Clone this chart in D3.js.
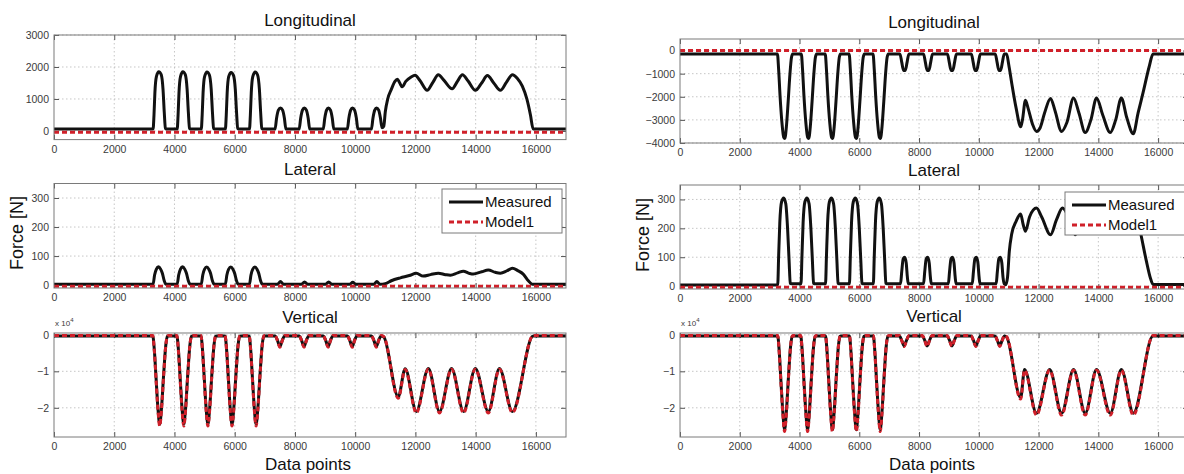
<!DOCTYPE html>
<html>
<head>
<meta charset="utf-8">
<script src="https://cdn.jsdelivr.net/npm/d3@7"></script>
<style>
  body { margin: 0; background: #fff; }
  svg { display: block; }
</style>
</head>
<body>
<svg id="chart" width="1184" height="474"></svg>
<script>
// ---- Axis ticks and labels ----
const xTickValues = [0, 2000, 4000, 6000, 8000, 10000, 12000, 14000, 16000];
const leftLongTicks = [0, 1000, 2000, 3000];
const rightLongTicks = [-4000, -3000, -2000, -1000, 0];
const latTicks = [0, 100, 200, 300];
const vertTicks = [-20000, -10000, 0];
const subplotTitles = ["Longitudinal", "Lateral", "Vertical"];
const seriesNames = ["Measured", "Model1"];

// ---- Test run 1: forces [N] against data point index ----
const leftLongMeasured = [
  [0,60],[3290,60],[3320,500],[3350,1200],[3400,1700],[3480,1850],[3560,1760],[3620,1300],[3660,600],[3700,80],[3730,60],
  [4090,60],[4120,500],[4150,1200],[4200,1700],[4280,1850],[4360,1760],[4420,1300],[4460,600],[4500,80],[4530,60],
  [4890,60],[4920,500],[4950,1200],[5000,1700],[5080,1840],[5160,1750],[5220,1300],[5260,600],[5300,80],[5330,60],
  [5690,60],[5720,500],[5750,1200],[5800,1700],[5880,1830],[5960,1740],[6020,1300],[6060,600],[6100,80],[6130,60],
  [6490,60],[6520,500],[6550,1200],[6600,1700],[6680,1840],[6760,1750],[6820,1300],[6860,600],[6900,80],[6930,60],
  [7340,60],[7390,400],[7450,650],[7520,720],[7590,650],[7650,400],[7700,60],
  [8140,60],[8190,400],[8250,650],[8310,720],[8380,650],[8440,400],[8490,60],
  [8940,60],[8990,400],[9050,650],[9110,720],[9180,650],[9240,400],[9290,60],
  [9740,60],[9790,400],[9850,650],[9910,720],[9980,650],[10040,400],[10090,60],
  [10540,60],[10590,400],[10650,650],[10710,720],[10780,650],[10840,400],[10890,100],
  [10950,150],[11000,600],[11080,1000],[11200,1300],[11320,1550],[11400,1620],[11480,1500],[11560,1380],
  [11680,1550],[11850,1680],[11990,1740],[12150,1580],[12390,1270],[12580,1520],[12760,1760],[12950,1580],
  [13220,1320],[13400,1560],[13560,1760],[13750,1560],[13990,1270],[14200,1500],[14390,1730],[14600,1500],
  [14820,1270],[15020,1520],[15220,1760],[15380,1650],[15550,1400],[15700,1000],[15820,500],[15910,60],[17000,60]
];
const leftLongModel = [[0,-40],[17000,-40]];

const leftLatMeasured = [
  [0,3],[3290,3],[3340,35],[3400,55],[3470,63],[3540,55],[3600,40],[3660,15],[3720,3],
  [4090,3],[4140,35],[4200,55],[4270,63],[4340,55],[4400,40],[4460,15],[4520,3],
  [4890,3],[4940,35],[5000,55],[5070,62],[5140,55],[5200,40],[5260,15],[5320,3],
  [5690,3],[5740,35],[5800,55],[5870,62],[5940,55],[6000,40],[6060,15],[6120,3],
  [6490,3],[6540,35],[6600,55],[6670,62],[6740,55],[6800,40],[6860,15],[6920,3],
  [7420,3],[7520,12],[7620,3],[8220,3],[8320,11],[8420,3],[9020,3],[9120,11],[9220,3],
  [9820,3],[9920,10],[10020,3],[10620,3],[10720,12],[10820,3],
  [11000,5],[11200,15],[11500,25],[11800,33],[12030,41],[12260,31],[12500,36],[12760,41],[13000,36],
  [13160,34],[13400,42],[13590,48],[13800,40],[13920,38],[14200,46],[14420,52],[14650,44],[14820,41],
  [15050,50],[15220,58],[15400,50],[15580,38],[15750,15],[15880,3],[17000,3]
];
const leftLatModel = [[0,-4],[17000,-4]];

const leftVertMeasured = [
  [0,-300],[3280,-300],[3330,-4000],[3390,-12000],[3450,-20000],[3510,-24500],[3570,-20000],[3640,-11000],[3710,-3000],[3770,-400],[3800,-300],
  [4080,-300],[4130,-4000],[4190,-12000],[4250,-20000],[4310,-24500],[4370,-20000],[4440,-11000],[4510,-3000],[4570,-400],[4600,-300],
  [4880,-300],[4930,-4000],[4990,-12000],[5050,-20000],[5110,-24500],[5170,-20000],[5240,-11000],[5310,-3000],[5370,-400],[5400,-300],
  [5680,-300],[5730,-4000],[5790,-12000],[5850,-20000],[5910,-24500],[5970,-20000],[6040,-11000],[6110,-3000],[6170,-400],[6200,-300],
  [6480,-300],[6530,-4000],[6590,-12000],[6650,-20000],[6710,-24500],[6770,-20000],[6840,-11000],[6910,-3000],[6970,-400],[7000,-300],
  [7340,-300],[7420,-1500],[7500,-3200],[7580,-1500],[7660,-300],
  [8140,-300],[8220,-1500],[8300,-3200],[8380,-1500],[8460,-300],
  [8940,-300],[9020,-1500],[9100,-3200],[9180,-1500],[9260,-300],
  [9740,-300],[9820,-1500],[9900,-3200],[9980,-1500],[10060,-300],
  [10540,-300],[10620,-1500],[10700,-3200],[10780,-1500],[10860,-300],
  [10950,-600],[11430,-17000],[11660,-9300],[12030,-21000],[12430,-9200],[12800,-21000],[13200,-9200],
  [13600,-21000],[13990,-9200],[14420,-21000],[14790,-9200],[15220,-21000],[15910,-300],[17000,-300]
];
const leftVertModel = [
  [0,-200],[3280,-200],[3330,-4300],[3390,-12500],[3450,-20500],[3510,-25000],[3570,-20500],[3640,-11200],[3710,-3000],[3770,-300],[3800,-200],
  [4080,-200],[4130,-4300],[4190,-12500],[4250,-20500],[4310,-25000],[4370,-20500],[4440,-11200],[4510,-3000],[4570,-300],[4600,-200],
  [4880,-200],[4930,-4300],[4990,-12500],[5050,-20500],[5110,-25000],[5170,-20500],[5240,-11200],[5310,-3000],[5370,-300],[5400,-200],
  [5680,-200],[5730,-4300],[5790,-12500],[5850,-20500],[5910,-25000],[5970,-20500],[6040,-11200],[6110,-3000],[6170,-300],[6200,-200],
  [6480,-200],[6530,-4300],[6590,-12500],[6650,-20500],[6710,-25000],[6770,-20500],[6840,-11200],[6910,-3000],[6970,-300],[7000,-200],
  [7340,-200],[7420,-1600],[7500,-3400],[7580,-1600],[7660,-200],
  [8140,-200],[8220,-1600],[8300,-3400],[8380,-1600],[8460,-200],
  [8940,-200],[9020,-1600],[9100,-3400],[9180,-1600],[9260,-200],
  [9740,-200],[9820,-1600],[9900,-3400],[9980,-1600],[10060,-200],
  [10540,-200],[10620,-1600],[10700,-3400],[10780,-1600],[10860,-200],
  [10950,-500],[11430,-17400],[11660,-9500],[12030,-21400],[12430,-9400],[12800,-21400],[13200,-9400],
  [13600,-21400],[13990,-9400],[14420,-21400],[14790,-9400],[15220,-21300],[15910,-200],[17000,-200]
];

// ---- Test run 2 ----
const rightLongMeasured = [
  [0,-150],[3260,-150],[3300,-800],[3350,-2000],[3410,-3100],[3470,-3750],[3510,-3800],[3560,-3300],[3620,-2200],[3680,-1000],[3730,-300],[3770,-150],
  [4060,-150],[4100,-800],[4150,-2000],[4210,-3100],[4270,-3750],[4310,-3800],[4360,-3300],[4420,-2200],[4480,-1000],[4530,-300],[4570,-150],
  [4860,-150],[4900,-800],[4950,-2000],[5010,-3100],[5070,-3750],[5110,-3800],[5160,-3300],[5220,-2200],[5280,-1000],[5330,-300],[5370,-150],
  [5660,-150],[5700,-800],[5750,-2000],[5810,-3100],[5870,-3750],[5910,-3800],[5960,-3300],[6020,-2200],[6080,-1000],[6130,-300],[6170,-150],
  [6460,-150],[6500,-800],[6550,-2000],[6610,-3100],[6670,-3750],[6710,-3800],[6760,-3300],[6820,-2200],[6880,-1000],[6930,-300],[6970,-150],
  [7360,-150],[7420,-500],[7480,-860],[7540,-860],[7600,-500],[7660,-150],
  [8150,-150],[8210,-500],[8270,-860],[8330,-860],[8390,-500],[8450,-150],
  [8950,-150],[9010,-500],[9070,-860],[9130,-860],[9190,-500],[9250,-150],
  [9750,-150],[9810,-500],[9870,-860],[9930,-860],[9990,-500],[10050,-150],
  [10550,-150],[10610,-500],[10670,-860],[10730,-860],[10790,-500],[10850,-150],
  [10930,-150],[11000,-600],[11100,-1400],[11250,-2500],[11400,-3300],[11460,-3000],[11560,-2150],[11650,-2500],
  [11800,-3200],[11930,-3500],[12050,-3350],[12200,-2700],[12400,-2070],[12550,-2600],[12770,-3500],[12950,-3100],
  [13170,-2050],[13350,-2700],[13560,-3550],[13750,-3000],[13940,-2050],[14150,-2800],[14400,-3550],[14580,-3000],
  [14770,-2050],[14950,-2900],[15170,-3600],[15330,-2700],[15500,-1800],[15700,-700],[15830,-150],[17000,-150]
];
const rightLongModel = [[0,0],[17000,0]];

const rightLatMeasured = [
  [0,4],[3270,4],[3300,100],[3340,220],[3400,292],[3470,305],[3540,285],[3600,200],[3650,90],[3690,10],[3720,8],
  [4050,8],[4080,100],[4120,220],[4180,292],[4250,305],[4320,285],[4380,200],[4430,90],[4470,10],[4500,8],
  [4870,8],[4900,100],[4940,220],[5000,292],[5070,305],[5140,285],[5200,200],[5250,90],[5290,10],[5320,8],
  [5670,8],[5700,100],[5740,220],[5800,292],[5870,305],[5940,285],[6000,200],[6050,90],[6090,10],[6120,8],
  [6470,8],[6500,100],[6540,220],[6600,292],[6670,305],[6740,285],[6800,200],[6850,90],[6890,10],[6920,8],
  [7380,8],[7420,50],[7470,95],[7520,100],[7570,80],[7610,30],[7640,8],
  [8150,8],[8190,50],[8240,95],[8290,100],[8340,80],[8380,30],[8410,8],
  [8980,8],[9020,50],[9070,95],[9120,100],[9170,80],[9210,30],[9240,8],
  [9780,8],[9820,50],[9870,95],[9920,100],[9970,80],[10010,30],[10040,8],
  [10580,8],[10620,50],[10670,95],[10720,100],[10770,80],[10810,30],[10850,8],
  [10900,5],[10960,30],[11020,120],[11100,180],[11250,225],[11400,250],[11480,215],[11560,190],[11700,240],
  [11930,270],[12100,240],[12400,178],[12600,230],[12800,270],[13000,240],[13230,178],[13400,230],[13600,270],
  [13800,230],[14000,182],[14200,230],[14400,270],[14600,230],[14800,182],[15000,230],[15200,268],[15350,215],
  [15430,176],[15600,90],[15750,25],[15830,6],[17000,6]
];
const rightLatModel = [[0,-4],[17000,-4]];

const rightVertMeasured = [
  [0,-300],[3270,-300],[3320,-4500],[3380,-13000],[3440,-21000],[3500,-26000],[3560,-21000],[3630,-11500],[3700,-3200],[3760,-400],[3790,-300],
  [4040,-300],[4090,-4500],[4150,-13000],[4210,-21000],[4270,-26000],[4330,-21000],[4400,-11500],[4470,-3200],[4530,-400],[4560,-300],
  [4870,-300],[4920,-4500],[4980,-13000],[5040,-21000],[5100,-26000],[5160,-21000],[5230,-11500],[5300,-3200],[5360,-400],[5390,-300],
  [5670,-300],[5720,-4500],[5780,-13000],[5840,-21000],[5900,-26000],[5960,-21000],[6030,-11500],[6100,-3200],[6160,-400],[6190,-300],
  [6470,-300],[6520,-4500],[6580,-13000],[6640,-21000],[6700,-26000],[6760,-21000],[6830,-11500],[6900,-3200],[6960,-400],[6990,-300],
  [7340,-300],[7420,-1500],[7500,-3000],[7580,-1500],[7660,-300],
  [8110,-300],[8190,-1500],[8270,-3000],[8350,-1500],[8430,-300],
  [8940,-300],[9020,-1500],[9100,-3000],[9180,-1500],[9260,-300],
  [9740,-300],[9820,-1500],[9900,-3000],[9980,-1500],[10060,-300],
  [10540,-300],[10620,-1500],[10700,-3000],[10780,-1500],[10860,-300],
  [10930,-600],[11400,-17200],[11530,-9500],[11930,-21500],[12370,-9500],[12770,-21500],[13170,-9500],
  [13560,-21500],[13940,-9500],[14400,-21500],[14770,-9500],[15170,-21500],[15830,-300],[17000,-300]
];
const rightVertModel = [
  [0,-200],[3270,-200],[3320,-4800],[3380,-13500],[3440,-21500],[3500,-26500],[3560,-21500],[3630,-11800],[3700,-3200],[3760,-300],[3790,-200],
  [4040,-200],[4090,-4800],[4150,-13500],[4210,-21500],[4270,-26500],[4330,-21500],[4400,-11800],[4470,-3200],[4530,-300],[4560,-200],
  [4870,-200],[4920,-4800],[4980,-13500],[5040,-21500],[5100,-26500],[5160,-21500],[5230,-11800],[5300,-3200],[5360,-300],[5390,-200],
  [5670,-200],[5720,-4800],[5780,-13500],[5840,-21500],[5900,-26500],[5960,-21500],[6030,-11800],[6100,-3200],[6160,-300],[6190,-200],
  [6470,-200],[6520,-4800],[6580,-13500],[6640,-21500],[6700,-26500],[6760,-21500],[6830,-11800],[6900,-3200],[6960,-300],[6990,-200],
  [7340,-200],[7420,-1600],[7500,-3200],[7580,-1600],[7660,-200],
  [8110,-200],[8190,-1600],[8270,-3200],[8350,-1600],[8430,-200],
  [8940,-200],[9020,-1600],[9100,-3200],[9180,-1600],[9260,-200],
  [9740,-200],[9820,-1600],[9900,-3200],[9980,-1600],[10060,-200],
  [10540,-200],[10620,-1600],[10700,-3200],[10780,-1600],[10860,-200],
  [10930,-500],[11400,-17600],[11530,-9700],[11930,-22000],[12370,-9700],[12770,-22000],[13170,-9700],
  [13560,-22000],[13940,-9700],[14400,-22000],[14770,-9700],[15170,-22000],[15830,-200],[17000,-200]
];

// ---- Layout ----
const FONT = "'Liberation Sans', Arial, Helvetica, sans-serif";
const X_DOMAIN = [0, 17000];
const LINE_W = 3;

const panels = [
  {
    left: 54, right: 566,
    yLabel: { x: 23, y: 233 },
    xLabelY: 470,
    plots: [
      { top: 35, bottom: 139.6, domain: [-270, 3000], ticks: leftLongTicks, meas: leftLongMeasured, model: leftLongModel, titleY: 26 },
      { top: 183.5, bottom: 288, domain: [-10, 350], ticks: latTicks, meas: leftLatMeasured, model: leftLatModel, titleY: 175,
        legend: { x: 442, y: 189, w: 120, h: 44 } },
      { top: 333, bottom: 437, domain: [-28000, 500], ticks: vertTicks, meas: leftVertMeasured, model: leftVertModel, titleY: 323, exponent: 4 }
    ]
  },
  {
    left: 680, right: 1188,
    yLabel: { x: 649, y: 235 },
    xLabelY: 470,
    plots: [
      { top: 39, bottom: 143, domain: [-4000, 500], ticks: rightLongTicks, meas: rightLongMeasured, model: rightLongModel, titleY: 28 },
      { top: 185, bottom: 289, domain: [-10, 350], ticks: latTicks, meas: rightLatMeasured, model: rightLatModel, titleY: 176,
        legend: { x: 1065, y: 192, w: 130, h: 43 } },
      { top: 333, bottom: 437, domain: [-28000, 500], ticks: vertTicks, meas: rightVertMeasured, model: rightVertModel, titleY: 322, exponent: 4 }
    ]
  }
];

const svg = d3.select("#chart");
svg.append("rect").attr("width", 1184).attr("height", 474).attr("fill", "#fff");

let clipId = 0;

panels.forEach(panel => {
  const x = d3.scaleLinear().domain(X_DOMAIN).range([panel.left, panel.right]);
  const cx = (panel.left + panel.right) / 2;

  panel.plots.forEach((p, i) => {
    const y = d3.scaleLinear().domain(p.domain).range([p.bottom, p.top]);
    const g = svg.append("g");

    // plot background
    g.append("rect")
      .attr("x", panel.left).attr("y", p.top)
      .attr("width", panel.right - panel.left).attr("height", p.bottom - p.top)
      .attr("fill", "#fff");

    // dotted grid
    const grid = g.append("g").attr("stroke", "#b8b8b8").attr("stroke-width", 0.8).attr("stroke-dasharray", "1.5,2.5");
    grid.selectAll("line.vx").data(xTickValues.slice(1)).join("line")
      .attr("x1", d => x(d)).attr("x2", d => x(d)).attr("y1", p.top).attr("y2", p.bottom);
    grid.selectAll("line.hy").data(p.ticks).join("line")
      .attr("x1", panel.left).attr("x2", panel.right).attr("y1", d => y(d)).attr("y2", d => y(d));

    // axes with inward ticks
    const fmt = p.exponent ? (d => d3.format("d")(d / Math.pow(10, p.exponent))) : d3.format("d");
    const styleAxis = sel => {
      sel.select(".domain").remove();
      sel.selectAll(".tick line").attr("stroke", "#555").attr("stroke-width", 1);
      sel.selectAll(".tick text").attr("fill", "#3a3a3a").style("font-family", FONT).style("font-size", "10.5px");
    };
    g.append("g").attr("transform", `translate(0,${p.bottom})`)
      .call(d3.axisBottom(x).tickValues(xTickValues).tickSize(-5).tickPadding(6).tickFormat(d3.format("d")))
      .call(styleAxis);
    g.append("g").attr("transform", `translate(0,${p.top})`)
      .call(d3.axisTop(x).tickValues(xTickValues).tickSize(-5).tickFormat(""))
      .call(styleAxis);
    g.append("g").attr("transform", `translate(${panel.left},0)`)
      .call(d3.axisLeft(y).tickValues(p.ticks).tickSize(-5).tickPadding(5).tickFormat(fmt))
      .call(styleAxis);
    g.append("g").attr("transform", `translate(${panel.right},0)`)
      .call(d3.axisRight(y).tickValues(p.ticks).tickSize(-5).tickFormat(""))
      .call(styleAxis);

    // series, clipped to the plot box
    const cid = "clip" + (clipId++);
    svg.append("clipPath").attr("id", cid).append("rect")
      .attr("x", panel.left).attr("y", p.top - 2)
      .attr("width", panel.right - panel.left).attr("height", p.bottom - p.top + 4);
    const line = d3.line().x(d => x(d[0])).y(d => y(d[1])).curve(d3.curveMonotoneX);
    const lines = g.append("g").attr("clip-path", `url(#${cid})`);
    lines.append("path").datum(p.meas).attr("d", line)
      .attr("fill", "none").attr("stroke", "#111").attr("stroke-width", LINE_W)
      .attr("stroke-linejoin", "round");
    lines.append("path").datum(p.model).attr("d", line)
      .attr("fill", "none").attr("stroke", "#d0202a").attr("stroke-width", LINE_W)
      .attr("stroke-dasharray", "5,3");

    // box
    g.append("rect")
      .attr("x", panel.left).attr("y", p.top)
      .attr("width", panel.right - panel.left).attr("height", p.bottom - p.top)
      .attr("fill", "none").attr("stroke", "#7a7a7a").attr("stroke-width", 1);

    // title
    g.append("text").attr("x", cx).attr("y", p.titleY).attr("text-anchor", "middle")
      .style("font-family", FONT).style("font-size", "17px").attr("fill", "#111")
      .text(subplotTitles[i]);

    // exponent marker
    if (p.exponent) {
      const t = g.append("text").attr("x", panel.left + 1).attr("y", p.top - 7)
        .style("font-family", FONT).style("font-size", "8px").attr("fill", "#3a3a3a");
      t.append("tspan").text("x 10");
      t.append("tspan").attr("dy", -4).style("font-size", "6px").text(String(p.exponent));
    }

    // legend
    if (p.legend) {
      const L = p.legend;
      const lg = g.append("g");
      lg.append("rect").attr("x", L.x).attr("y", L.y).attr("width", L.w).attr("height", L.h)
        .attr("fill", "#fff").attr("stroke", "#7a7a7a").attr("stroke-width", 1);
      const rows = [
        { name: seriesNames[0], stroke: "#111", dash: null },
        { name: seriesNames[1], stroke: "#d0202a", dash: "5,3" }
      ];
      rows.forEach((r, k) => {
        const ry = L.y + 13 + k * 20;
        lg.append("line").attr("x1", L.x + 7).attr("x2", L.x + 41).attr("y1", ry).attr("y2", ry)
          .attr("stroke", r.stroke).attr("stroke-width", LINE_W).attr("stroke-dasharray", r.dash);
        lg.append("text").attr("x", L.x + 43).attr("y", ry + 5)
          .style("font-family", FONT).style("font-size", "15px").attr("fill", "#111")
          .text(r.name);
      });
    }
  });

  // axis labels
  svg.append("text").attr("x", cx - 2).attr("y", panel.xLabelY).attr("text-anchor", "middle")
    .style("font-family", FONT).style("font-size", "17px").attr("fill", "#111")
    .text("Data points");
  svg.append("text")
    .attr("transform", `translate(${panel.yLabel.x},${panel.yLabel.y}) rotate(-90)`)
    .attr("text-anchor", "middle")
    .style("font-family", FONT).style("font-size", "18px").attr("fill", "#111")
    .text("Force [N]");
});
</script>
</body>
</html>
